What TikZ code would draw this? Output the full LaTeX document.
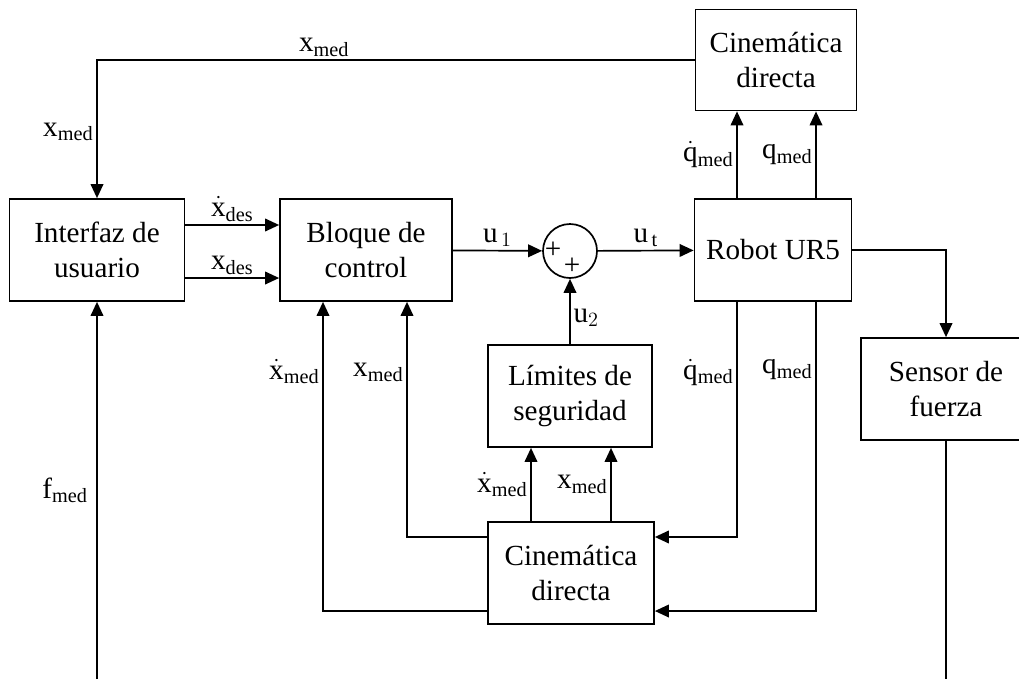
\documentclass[tikz,border=0pt]{standalone}
\usepackage{fontspec}
\setmainfont{Liberation Serif}
\usepackage{tikz}
\usetikzlibrary{positioning,arrows.meta,calc}
\tikzset{
  blk/.style={draw,line width=1.2pt,align=center,font=\huge,
             minimum height=2.55cm,fill=white},
  sumnode/.style={draw,line width=1.2pt,circle,minimum size=1.35cm,inner sep=0pt},
  sig/.style={-{Triangle[length=10pt,width=9pt]},line width=1.2pt},
  wire/.style={line width=1.2pt},
  lbl/.style={font=\huge,inner sep=2pt},
}
\newcommand{\med}[1]{$\mathrm{#1}_{\mathrm{med}}$}
\newcommand{\dmed}[1]{$\dot{\mathrm{#1}}_{\mathrm{med}}$}

\begin{document}
\begin{tikzpicture}[x=0.025cm,y=-0.025cm]
  \useasboundingbox (0,0) rectangle (1019,679);
  % blocks
  \node[blk,minimum width=4.375cm] (interfaz) at (97,250) {Interfaz de\\usuario};
  \node[blk,minimum width=4.3cm] (bloque) at (366,250) {Bloque de\\control};
  \node[sumnode] (sum) at (570,251) {};
  \node[font=\huge,inner sep=0pt] (plusa) at (553,250) {+};
  \node[font=\huge,inner sep=0pt] (plusb) at (572,266) {+};
  \node[blk,minimum width=3.925cm] (robot) at (773,250) {Robot UR5};
  \node[blk,minimum width=4.025cm,minimum height=2.525cm] (cintop) at (776,60) {Cinemática\\directa};
  \node[blk,minimum width=4.25cm] (sensor) at (946,389) {Sensor de\\fuerza};
  \node[blk,minimum width=4.1cm] (limites) at (570,396) {Límites de\\seguridad};
  \node[blk,minimum width=4.15cm] (cinbot) at (571,573) {Cinemática\\directa};
  % lanes and free ends
  \coordinate (laneqd) at (737,0);
  \coordinate (laneq) at (816,0);
  \coordinate (lanexd) at (323,0);
  \coordinate (lanex) at (407,0);
  \coordinate (lanelxd) at (531,0);
  \coordinate (lanelx) at (611,0);
  \coordinate (fin) at (97,679);
  \coordinate (fout) at (946,679);

  % top feedback
  \draw[sig] (cintop.west) -| node[lbl,above,pos=0.31] {\med{x}}
                              node[lbl,left,pos=0.76] {\med{x}} (interfaz.north);
  % interface -> control
  \draw[sig] ([yshift=0.625cm]interfaz.east) -- node[lbl,above] {$\dot{\mathrm{x}}_{\mathrm{des}}$}
             ([yshift=0.625cm]bloque.west);
  \draw[sig] ([yshift=-0.7cm]interfaz.east) -- node[lbl,above] {$\mathrm{x}_{\mathrm{des}}$}
             ([yshift=-0.7cm]bloque.west);
  % forward path
  \draw[sig] (bloque) -- node[lbl,above] {$\mathrm{u}_{\,1}$} (sum);
  \draw[sig] (sum) -- node[lbl,above] {$\mathrm{u}_{\,\mathrm{t}}$} (robot);
  \draw[sig] (limites) -- node[lbl,right,pos=0.4] {$\mathrm{u}_{2}$} (sum);
  % robot outputs
  \draw[sig] (robot.north -| laneqd) -- node[lbl,left] {\dmed{q}} (cintop.south -| laneqd);
  \draw[sig] (robot.north -| laneq) -- node[lbl,left] {\med{q}} (cintop.south -| laneq);
  \draw[sig] (robot.east) -| (sensor.north);
  \draw[sig] (robot.south -| laneqd) |- node[lbl,left,pos=0.15] {\dmed{q}}
             ([yshift=0.9cm]cinbot.east);
  \draw[sig] (robot.south -| laneq) |- node[lbl,left,pos=0.11] {\med{q}}
             ([yshift=-0.95cm]cinbot.east);
  % kinematics outputs
  \draw[sig] ([yshift=0.9cm]cinbot.west) -| node[lbl,left,pos=0.85] {\med{x}}
             (bloque.south -| lanex);
  \draw[sig] ([yshift=-0.95cm]cinbot.west) -| node[lbl,left,pos=0.887] {\dmed{x}}
             (bloque.south -| lanexd);
  \draw[sig] (cinbot.north -| lanelxd) -- node[lbl,left] {\dmed{x}} (limites.south -| lanelxd);
  \draw[sig] (cinbot.north -| lanelx) -- node[lbl,left] {\med{x}} (limites.south -| lanelx);
  % force
  \draw[sig] (fin) -- node[lbl,left=4pt] {$\mathrm{f}_{\mathrm{med}}$} (interfaz.south);
  \draw[wire] (sensor.south) -- (fout);
\end{tikzpicture}
\end{document}
